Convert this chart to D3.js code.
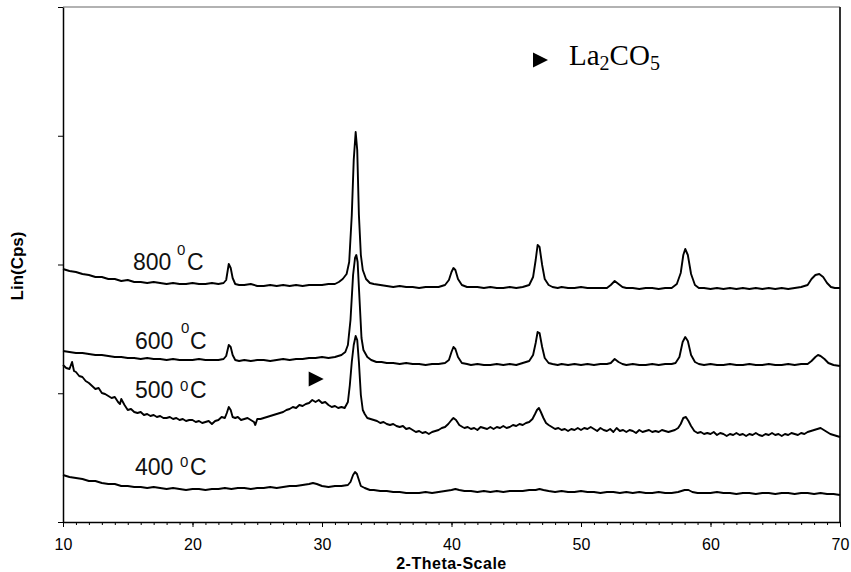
<!DOCTYPE html>
<html>
<head>
<meta charset="utf-8">
<script src="https://cdn.jsdelivr.net/npm/d3@7"></script>
<style>
  html, body { margin: 0; padding: 0; background: #fff; }
  svg { display: block; }
</style>
</head>
<body>
<svg id="xrd-chart" width="851" height="572"></svg>
<script>
'use strict';

// [2-theta, counts]
var series800 = [[10,2024],[10.5,2008],[11,2000],[11.5,1984],[12,1976],[12.5,1960],[13,1960],[13.5,1944],[14,1944],[14.5,1928],[15,1936],[15.5,1920],[16,1920],[16.5,1912],[17,1920],[17.5,1912],[18,1904],[18.5,1912],[19,1904],[19.5,1904],[20,1912],[20.5,1904],[21,1904],[21.5,1912],[22,1904],[22.4,1912],[22.6,1936],[22.8,2064],[22.95,2032],[23.1,1952],[23.3,1904],[23.6,1896],[24,1896],[24.5,1904],[25,1888],[25.5,1888],[26,1896],[26.5,1888],[27,1896],[27.5,1888],[28,1896],[28.5,1888],[29,1896],[29.5,1896],[30,1896],[30.5,1904],[31,1904],[31.3,1920],[31.6,1944],[31.9,1984],[32.1,2080],[32.3,2456],[32.45,2896],[32.6,3120],[32.72,2976],[32.85,2456],[33,2136],[33.15,2016],[33.4,1944],[33.7,1912],[34,1904],[34.5,1896],[35,1888],[35.5,1880],[36,1888],[36.5,1880],[37,1880],[37.5,1872],[38,1880],[38.5,1880],[39,1880],[39.5,1896],[39.8,1936],[40,2000],[40.15,2032],[40.3,2016],[40.5,1944],[40.8,1896],[41.2,1880],[41.5,1880],[42,1880],[42.5,1872],[43,1880],[43.5,1872],[44,1872],[44.5,1880],[45,1872],[45.5,1880],[46,1896],[46.3,1960],[46.5,2096],[46.65,2216],[46.8,2200],[47,2056],[47.2,1944],[47.5,1896],[47.8,1880],[48.2,1872],[48.5,1880],[49,1872],[49.5,1872],[50,1880],[50.5,1872],[51,1872],[51.5,1872],[52,1872],[52.3,1896],[52.6,1928],[52.9,1904],[53.2,1880],[53.5,1872],[54,1872],[54.5,1864],[55,1872],[55.5,1872],[56,1864],[56.5,1872],[57,1872],[57.4,1904],[57.7,1992],[57.9,2136],[58.05,2184],[58.25,2136],[58.5,1984],[58.8,1896],[59.1,1872],[59.5,1872],[60,1864],[60.5,1872],[61,1864],[61.5,1872],[62,1864],[62.5,1872],[63,1864],[63.5,1872],[64,1864],[64.5,1872],[65,1864],[65.5,1872],[66,1864],[66.5,1872],[67,1880],[67.5,1896],[67.8,1944],[68.1,1976],[68.4,1984],[68.7,1960],[69,1912],[69.3,1880],[69.6,1872],[70,1872]];

var series600 = [[10,1368],[10.5,1360],[11,1352],[11.5,1352],[12,1344],[12.5,1336],[13,1336],[13.5,1328],[14,1320],[14.5,1320],[15,1312],[15.5,1312],[16,1304],[16.5,1312],[17,1304],[17.5,1304],[18,1296],[18.5,1304],[19,1296],[19.5,1296],[20,1296],[20.5,1304],[21,1296],[21.5,1296],[22,1296],[22.4,1304],[22.6,1328],[22.8,1416],[22.95,1400],[23.1,1336],[23.3,1296],[23.6,1288],[24,1296],[24.5,1288],[25,1296],[25.5,1296],[26,1288],[26.5,1296],[27,1304],[27.5,1296],[28,1304],[28.5,1304],[29,1312],[29.5,1312],[30,1320],[30.5,1312],[31,1320],[31.5,1336],[31.8,1360],[32,1416],[32.2,1616],[32.4,1976],[32.55,2112],[32.65,2136],[32.75,2080],[32.9,1776],[33.05,1472],[33.2,1376],[33.5,1320],[33.8,1296],[34.2,1280],[34.6,1280],[35,1272],[35.5,1272],[36,1264],[36.5,1272],[37,1264],[37.5,1264],[38,1256],[38.5,1264],[39,1264],[39.5,1272],[39.8,1296],[40,1360],[40.15,1400],[40.3,1384],[40.5,1320],[40.8,1272],[41.2,1264],[41.5,1256],[42,1264],[42.5,1256],[43,1256],[43.5,1264],[44,1256],[44.5,1264],[45,1256],[45.5,1272],[46,1288],[46.3,1336],[46.5,1432],[46.65,1520],[46.8,1512],[47,1400],[47.2,1312],[47.5,1272],[47.8,1264],[48.2,1256],[48.5,1264],[49,1256],[49.5,1264],[50,1256],[50.5,1264],[51,1256],[51.5,1264],[52,1264],[52.3,1272],[52.6,1304],[52.9,1280],[53.2,1264],[53.5,1256],[54,1264],[54.5,1256],[55,1256],[55.5,1264],[56,1256],[56.5,1264],[57,1264],[57.3,1272],[57.6,1320],[57.85,1440],[58.05,1480],[58.25,1448],[58.5,1336],[58.8,1280],[59.1,1264],[59.5,1256],[60,1264],[60.5,1256],[61,1256],[61.5,1264],[62,1256],[62.5,1256],[63,1264],[63.5,1256],[64,1256],[64.5,1264],[65,1256],[65.5,1256],[66,1264],[66.5,1256],[67,1264],[67.5,1264],[67.8,1288],[68.1,1320],[68.3,1336],[68.5,1328],[68.8,1304],[69.1,1272],[69.5,1256],[70,1248]];

var series500 = [[10,1256],[10.25,1232],[10.5,1224],[10.7,1280],[10.85,1208],[11,1200],[11.25,1168],[11.5,1160],[11.75,1128],[12,1112],[12.25,1088],[12.5,1064],[12.75,1072],[13,1032],[13.25,1024],[13.5,1008],[13.75,992],[14,1000],[14.25,960],[14.4,944],[14.5,984],[14.75,936],[15,896],[15.25,904],[15.5,880],[15.75,872],[16,880],[16.25,856],[16.5,864],[16.75,848],[17,856],[17.25,840],[17.5,848],[17.75,832],[18,832],[18.25,840],[18.5,824],[18.75,832],[19,816],[19.25,824],[19.5,808],[19.75,816],[20,816],[20.25,800],[20.5,808],[20.75,792],[21,800],[21.25,808],[21.5,784],[21.75,808],[22,816],[22.25,840],[22.5,832],[22.65,872],[22.8,920],[22.95,896],[23.1,840],[23.3,832],[23.5,840],[23.75,816],[24,824],[24.25,832],[24.5,816],[24.75,800],[24.85,776],[25,824],[25.25,824],[25.5,832],[25.75,840],[26,848],[26.25,856],[26.5,864],[26.75,872],[27,880],[27.25,896],[27.5,904],[27.75,920],[28,912],[28.25,936],[28.5,928],[28.75,944],[29,952],[29.25,976],[29.5,960],[29.75,976],[30,952],[30.25,960],[30.5,936],[30.75,920],[31,928],[31.25,912],[31.5,920],[31.75,912],[32,960],[32.15,1096],[32.3,1280],[32.45,1416],[32.6,1488],[32.72,1456],[32.85,1280],[33,1016],[33.15,896],[33.3,864],[33.5,832],[33.75,824],[34,816],[34.25,808],[34.5,792],[34.75,800],[35,784],[35.25,776],[35.5,784],[35.75,768],[36,760],[36.25,768],[36.5,744],[36.75,752],[37,736],[37.25,720],[37.5,728],[37.75,712],[38,720],[38.25,704],[38.5,720],[38.75,728],[39,736],[39.25,752],[39.5,760],[39.75,784],[40,816],[40.15,832],[40.35,816],[40.6,776],[40.85,760],[41,752],[41.25,760],[41.5,744],[41.75,752],[42,736],[42.25,760],[42.5,752],[42.75,744],[43,760],[43.25,744],[43.5,760],[43.75,752],[44,768],[44.25,752],[44.5,760],[44.75,776],[45,768],[45.25,784],[45.5,776],[45.75,792],[46,800],[46.25,824],[46.45,864],[46.6,896],[46.75,912],[46.9,880],[47.1,832],[47.3,792],[47.5,776],[47.75,760],[48,744],[48.25,752],[48.5,736],[48.75,744],[49,728],[49.25,744],[49.5,736],[49.75,752],[50,736],[50.25,752],[50.5,744],[50.75,760],[51,744],[51.25,728],[51.5,752],[51.75,736],[52,728],[52.25,744],[52.5,720],[52.75,752],[53,728],[53.25,736],[53.5,720],[53.75,736],[54,728],[54.25,712],[54.5,736],[54.75,720],[55,728],[55.25,736],[55.5,720],[55.75,728],[56,720],[56.25,736],[56.5,728],[56.75,720],[57,728],[57.25,736],[57.5,752],[57.7,784],[57.9,832],[58.1,840],[58.3,808],[58.5,768],[58.75,728],[59,712],[59.25,720],[59.5,704],[59.75,712],[60,704],[60.25,720],[60.5,696],[60.75,712],[61,704],[61.25,688],[61.5,704],[61.75,696],[62,712],[62.25,696],[62.5,704],[62.75,688],[63,704],[63.25,696],[63.5,712],[63.75,696],[64,688],[64.25,704],[64.5,696],[64.75,712],[65,696],[65.25,704],[65.5,688],[65.75,704],[66,696],[66.25,712],[66.5,704],[66.75,696],[67,712],[67.25,704],[67.5,720],[67.75,728],[68,736],[68.25,744],[68.5,752],[68.75,736],[69,720],[69.25,704],[69.5,696],[69.75,688],[70,680]];

var series400 = [[10,376],[10.5,360],[11,352],[11.5,344],[12,328],[12.5,328],[13,312],[13.5,304],[14,304],[14.5,288],[15,288],[15.5,280],[16,280],[16.5,272],[17,280],[17.5,272],[18,264],[18.5,272],[19,264],[19.5,256],[20,264],[20.5,264],[21,256],[21.5,264],[22,264],[22.5,272],[23,264],[23.5,272],[24,272],[24.5,264],[25,272],[25.5,272],[26,280],[26.5,272],[27,280],[27.5,288],[28,288],[28.5,296],[29,304],[29.3,312],[29.6,304],[30,288],[30.5,280],[31,288],[31.5,288],[32,296],[32.2,320],[32.4,376],[32.55,400],[32.7,384],[32.85,336],[33,288],[33.3,272],[33.7,256],[34,256],[34.5,248],[35,248],[35.5,240],[36,240],[36.5,232],[37,232],[37.5,232],[38,240],[38.5,232],[39,240],[39.5,248],[40,256],[40.3,264],[40.6,256],[41,248],[41.5,248],[42,240],[42.5,248],[43,240],[43.5,248],[44,240],[44.5,248],[45,248],[45.5,248],[46,256],[46.5,256],[46.8,264],[47.1,256],[47.5,248],[48,240],[48.5,248],[49,240],[49.5,240],[50,248],[50.5,240],[51,240],[51.5,232],[52,240],[52.5,240],[53,232],[53.5,240],[54,232],[54.5,240],[55,232],[55.5,232],[56,240],[56.5,232],[57,232],[57.5,240],[58,256],[58.3,256],[58.6,240],[59,232],[59.5,232],[60,232],[60.5,240],[61,232],[61.5,232],[62,224],[62.5,232],[63,232],[63.5,224],[64,232],[64.5,232],[65,224],[65.5,232],[66,232],[66.5,224],[67,232],[67.5,232],[68,224],[68.5,232],[69,224],[69.5,224],[70,216]];

var seriesList = [series400, series500, series600, series800];
var seriesNames = ['400', '500', '600', '800'];

var xTicks = [10, 20, 30, 40, 50, 60, 70];
var xMinorTicks = d3.range(10, 71, 1);
var yMax = 4120;
var yTicks = [0, 1030, 2060, 3090, 4120];

// La2CO5 reflection marked on the 500 C pattern
var la2co5Marks = [[29.55, 1144]];

var chart = (function() {
    var svg = d3.select('#xrd-chart');
    var left = 63, right = 840, top = 7, bottom = 522;
    var sans = '"Liberation Sans", Arial, sans-serif';
    var serif = '"Liberation Serif", "Times New Roman", serif';

    var x = d3.scaleLinear().domain([10, 70]).range([left, right]);
    var y = d3.scaleLinear().domain([0, yMax]).range([bottom, top]);

    function drawFrame() {
        svg.append('line')
            .attr('x1', left).attr('x2', right)
            .attr('y1', top).attr('y2', top)
            .attr('stroke', '#666').attr('stroke-width', 1.2);
        svg.append('line')
            .attr('x1', right).attr('x2', right)
            .attr('y1', top).attr('y2', bottom)
            .attr('stroke', '#333').attr('stroke-width', 2);
    }

    function drawAxes() {
        var minor = svg.append('g')
            .attr('transform', 'translate(0,' + bottom + ')')
            .call(d3.axisBottom(x).tickValues(xMinorTicks).tickSize(3).tickSizeOuter(0).tickFormat(''));
        minor.select('.domain').remove();

        var xAxis = svg.append('g')
            .attr('transform', 'translate(0,' + bottom + ')')
            .call(d3.axisBottom(x).tickValues(xTicks).tickSize(5).tickSizeOuter(0).tickPadding(12));
        xAxis.selectAll('text')
            .attr('font-family', sans).attr('font-size', 16).attr('fill', '#000');

        svg.append('g')
            .attr('transform', 'translate(' + left + ',0)')
            .call(d3.axisLeft(y).tickValues(yTicks).tickSize(5).tickSizeOuter(0).tickFormat(''));

        svg.selectAll('.domain').attr('stroke', '#000').attr('stroke-width', 1.5);
        svg.selectAll('.tick line').attr('stroke', '#000').attr('stroke-width', 1);

        svg.append('text')
            .attr('x', (left + right) / 2).attr('y', 569)
            .attr('text-anchor', 'middle')
            .attr('font-family', sans).attr('font-size', 16).attr('font-weight', 'bold')
            .attr('letter-spacing', 0.5)
            .text('2-Theta-Scale');

        svg.append('text')
            .attr('transform', 'translate(23,266) rotate(-90)')
            .attr('text-anchor', 'middle')
            .attr('font-family', sans).attr('font-size', 17).attr('font-weight', 'bold')
            .text('Lin(Cps)');
    }

    function drawPatterns() {
        var line = d3.line()
            .x(function(d) { return x(d[0]); })
            .y(function(d) { return y(d[1]); });

        svg.append('g')
            .selectAll('path')
            .data(seriesList)
            .enter().append('path')
            .attr('d', line)
            .attr('fill', 'none')
            .attr('stroke', '#000')
            .attr('stroke-width', 1.9)
            .attr('stroke-linejoin', 'round');
    }

    function drawLabels() {
        // x, baseline, superscript x / baseline, "C" x
        var spots = {
            '800': [133, 270, 177, 255, 187],
            '600': [135, 349, 181, 333, 190],
            '500': [135, 398, 180, 391, 190],
            '400': [135, 475, 180, 467, 190]
        };
        seriesNames.forEach(function(name) {
            var s = spots[name];
            var t = svg.append('text')
                .attr('font-family', sans).attr('fill', '#111');
            t.append('tspan').attr('x', s[0]).attr('y', s[1]).attr('font-size', 23).text(name);
            t.append('tspan').attr('x', s[2]).attr('y', s[3]).attr('font-size', 15).text('0');
            t.append('tspan').attr('x', s[4]).attr('y', s[1]).attr('font-size', 23).text('C');
        });
    }

    var triangle = 'M-7.5,-7.5L7.5,0L-7.5,7.5Z';

    function drawMarkers() {
        svg.append('g')
            .selectAll('path')
            .data(la2co5Marks)
            .enter().append('path')
            .attr('d', triangle)
            .attr('transform', function(d) { return 'translate(' + x(d[0]) + ',' + y(d[1]) + ')'; })
            .attr('fill', '#000');

        svg.append('path')
            .attr('d', triangle)
            .attr('transform', 'translate(540.5,60)')
            .attr('fill', '#000');

        var legend = svg.append('text')
            .attr('x', 569).attr('y', 65)
            .attr('font-family', serif).attr('font-size', 29).attr('fill', '#000');
        legend.append('tspan').text('La');
        legend.append('tspan').attr('font-size', 20).attr('dy', 5).text('2');
        legend.append('tspan').attr('dy', -5).text('CO');
        legend.append('tspan').attr('font-size', 20).attr('dy', 5).text('5');
    }

    return function render() {
        drawFrame();
        drawAxes();
        drawPatterns();
        drawLabels();
        drawMarkers();
    };
}());

chart();
</script>
</body>
</html>
